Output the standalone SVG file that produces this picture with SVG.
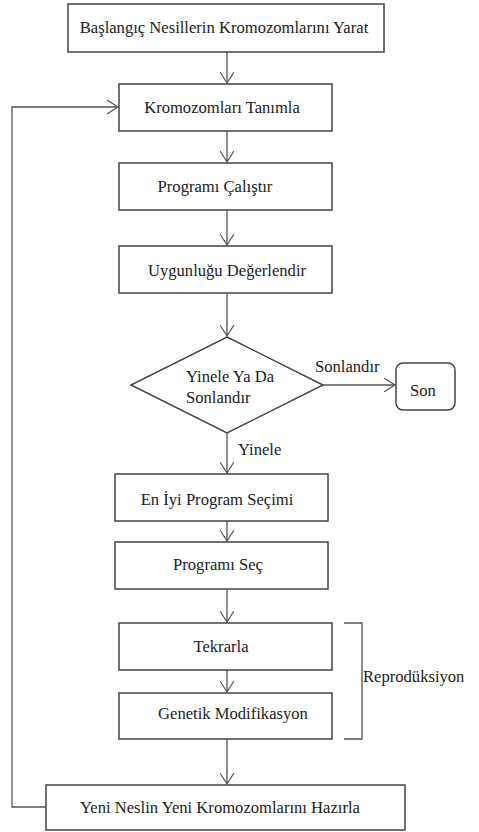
<svg xmlns="http://www.w3.org/2000/svg" width="479" height="832" viewBox="0 0 479 832">
<defs>
<marker id="arr" viewBox="0 0 12 14" refX="11" refY="7" markerWidth="12" markerHeight="14" markerUnits="userSpaceOnUse" orient="auto">
<path d="M0,0 L11,7 L0,14" fill="none" stroke="#555" stroke-width="1.2"/>
</marker>
<style>
.box{fill:#fff;stroke:#444;stroke-width:1.5}
text{font-family:"Liberation Serif","Times New Roman",serif;font-size:16.6px;fill:#222}
.c{text-anchor:middle}
.ln{fill:none;stroke:#555;stroke-width:1.3}
</style>
</defs>
<rect width="479" height="832" fill="#fff"/>
<g id="connectors">
<line class="ln" x1="227" y1="52" x2="227" y2="83" marker-end="url(#arr)"/>
<line class="ln" x1="227" y1="131" x2="227" y2="162" marker-end="url(#arr)"/>
<line class="ln" x1="227" y1="210" x2="227" y2="245" marker-end="url(#arr)"/>
<line class="ln" x1="227" y1="293" x2="227" y2="336" marker-end="url(#arr)"/>
<line class="ln" x1="323" y1="385" x2="395" y2="385" marker-end="url(#arr)"/>
<line class="ln" x1="227" y1="433" x2="227" y2="473" marker-end="url(#arr)"/>
<line class="ln" x1="227" y1="521" x2="227" y2="541" marker-end="url(#arr)"/>
<line class="ln" x1="227" y1="589" x2="227" y2="622" marker-end="url(#arr)"/>
<line class="ln" x1="227" y1="670" x2="227" y2="692" marker-end="url(#arr)"/>
<line class="ln" x1="227" y1="739" x2="227" y2="784" marker-end="url(#arr)"/>
<polyline class="ln" points="46,807 12,807 12,107 118,107" marker-end="url(#arr)"/>
<polyline class="ln" points="344,623 362,623 362,739 344,739"/>
<text font-family="Liberation Serif, serif" x="315" y="372">Sonlandır</text>
<text font-family="Liberation Serif, serif" x="238" y="455">Yinele</text>
<text font-family="Liberation Serif, serif" x="363" y="682">Reprodüksiyon</text>
</g>
<g id="n1"><rect class="box" x="68" y="4" width="316" height="48"/><text font-family="Liberation Serif, serif" class="c" x="224" y="33">Başlangıç Nesillerin Kromozomlarını Yarat</text></g>
<g id="n2"><rect class="box" x="119" y="84" width="213" height="47"/><text font-family="Liberation Serif, serif" class="c" x="222" y="113">Kromozomları Tanımla</text></g>
<g id="n3"><rect class="box" x="119" y="163" width="213" height="47"/><text font-family="Liberation Serif, serif" class="c" x="215" y="192">Programı Çalıştır</text></g>
<g id="n4"><rect class="box" x="119" y="246" width="213" height="47"/><text font-family="Liberation Serif, serif" class="c" x="227" y="276">Uygunluğu Değerlendir</text></g>
<g id="n5"><polygon class="box" points="227,337 323,385 227,433 131,385"/><text font-family="Liberation Serif, serif" x="186" y="382">Yinele Ya Da</text><text font-family="Liberation Serif, serif" x="186" y="403">Sonlandır</text></g>
<g id="n6"><rect class="box" x="396" y="363" width="59" height="47" rx="7"/><text font-family="Liberation Serif, serif" class="c" x="423" y="396">Son</text></g>
<g id="n7"><rect class="box" x="115" y="474" width="213" height="47"/><text font-family="Liberation Serif, serif" class="c" x="217" y="505">En İyi Program Seçimi</text></g>
<g id="n8"><rect class="box" x="115" y="542" width="213" height="47"/><text font-family="Liberation Serif, serif" class="c" x="218" y="570">Programı Seç</text></g>
<g id="n9"><rect class="box" x="119" y="623" width="213" height="47"/><text font-family="Liberation Serif, serif" class="c" x="221" y="652">Tekrarla</text></g>
<g id="n10"><rect class="box" x="119" y="693" width="213" height="46"/><text font-family="Liberation Serif, serif" class="c" x="233" y="719">Genetik Modifikasyon</text></g>
<g id="n11"><rect class="box" x="46" y="785" width="359" height="45"/><text font-family="Liberation Serif, serif" class="c" x="220" y="813">Yeni Neslin Yeni Kromozomlarını Hazırla</text></g>
</svg>
